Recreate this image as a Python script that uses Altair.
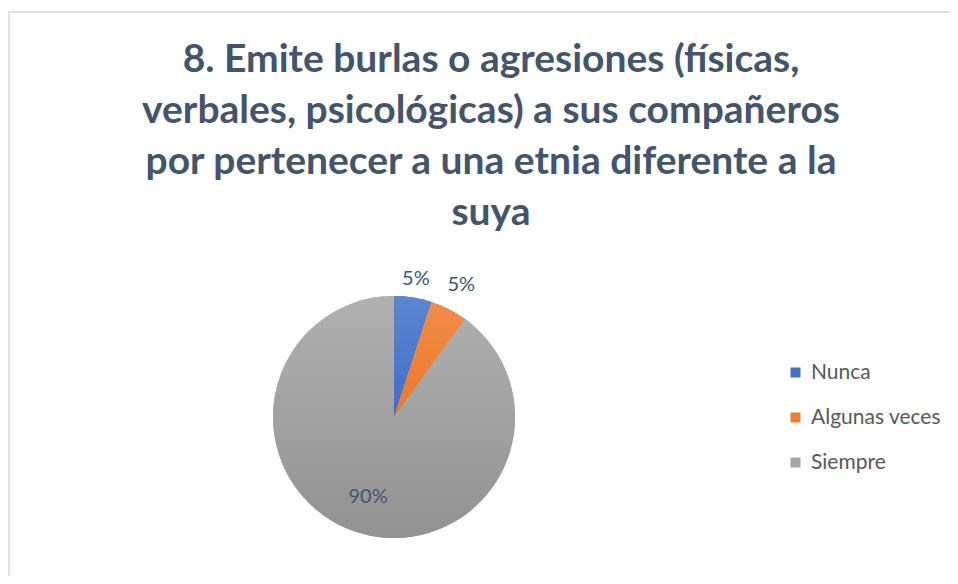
import altair as alt
import pandas as pd

categorias = ["Nunca", "Algunas veces", "Siempre"]
valores = [5, 5, 90]
etiquetas = ["5%", "5%", "90%"]
colores = ["#4472C4", "#ED7D31", "#A5A5A5"]
degradados = [("#5A86D3", "#416EC1"), ("#F28C48", "#EC772A"), ("#B1B1B1", "#929292")]

titulo = [
    "8. Emite burlas o agresiones (físicas,",
    "verbales, psicológicas) a sus compañeros",
    "por pertenecer a una etnia diferente a la",
    "suya",
]

df = pd.DataFrame({"Categoria": categorias, "Valor": valores, "Etiqueta": etiquetas,
                   "orden": list(range(len(categorias)))})

PAD_TOP = 230
W = 942
H = 568 - PAD_TOP
CX, CY, R = 386, 179, 121
TAU = 6.283185307179586
BORDE_Y = -226

base = alt.Chart(df).transform_joinaggregate(
    total="sum(Valor)"
).transform_window(
    cum="sum(Valor)", sort=[alt.SortField("orden")], frame=[None, 0]
).transform_calculate(
    a0=f"(datum.cum - datum.Valor) / datum.total * {TAU}",
    a1=f"datum.cum / datum.total * {TAU}",
    amid=f"(datum.cum - datum.Valor / 2) / datum.total * {TAU}",
)

color = alt.Color(
    "Categoria:N",
    sort=categorias,
    scale=alt.Scale(domain=categorias, range=colores),
    legend=alt.Legend(
        title=None, orient="none", legendX=777, legendY=124,
        symbolType="square", symbolSize=100, symbolStrokeWidth=0,
        labelFont="Lato", labelFontSize=21, labelColor="#595959",
        rowPadding=23, labelOffset=5,
    ),
)

arcs = base.mark_arc(radius=R, stroke=None).encode(
    theta=alt.Theta("a0:Q", scale=None),
    theta2="a1:Q",
    color=color,
    x=alt.value(CX), y=alt.value(CY),
)

layers = [arcs]
for cat, (c_top, c_bot) in zip(categorias, degradados):
    layers.append(
        base.transform_filter(alt.datum.Categoria == cat).mark_arc(
            radius=R, stroke=None,
            fill=alt.Gradient(gradient="linear", x1=0, x2=0, y1=0, y2=1,
                              stops=[alt.GradientStop(color=c_top, offset=0),
                                     alt.GradientStop(color=c_bot, offset=1)]),
        ).encode(
            theta=alt.Theta("a0:Q", scale=None),
            theta2="a1:Q",
            x=alt.value(CX), y=alt.value(CY),
        )
    )

texts = base.transform_calculate(
    r="datum.Categoria == 'Siempre' ? 84 : (datum.Categoria == 'Nunca' ? 140 : 148)"
).mark_text(font="Lato", fontSize=20, color="#44546A").encode(
    text="Etiqueta:N",
    theta=alt.Theta("amid:Q", scale=None),
    radius=alt.Radius("r:Q", scale=None),
    x=alt.value(CX), y=alt.value(CY),
)
layers.append(texts)

marco = pd.DataFrame({"k": [0]})
borde_sup = alt.Chart(marco).mark_rule(color="#DCE2EA", strokeWidth=2).encode(
    x=alt.value(0), x2=alt.value(W), y=alt.value(BORDE_Y)
)
borde_izq = alt.Chart(marco).mark_rule(color="#DCE2EA", strokeWidth=2).encode(
    x=alt.value(1), y=alt.value(BORDE_Y), y2=alt.value(H)
)
layers += [borde_sup, borde_izq]

chart = alt.layer(*layers).properties(
    width=W, height=H,
    autosize=alt.AutoSizeParams(type="none"),
    padding={"top": PAD_TOP, "left": 0, "right": 0, "bottom": 0},
    title=alt.Title(
        titulo, anchor="middle", frame="group", offset=-222, dx=12,
        font="Lato", fontSize=39, fontWeight="bold", color="#44546A",
        lineHeight=51,
    ),
).configure_view(stroke=None)

chart.save("out.html", embed_options={"renderer": "svg", "actions": False})
